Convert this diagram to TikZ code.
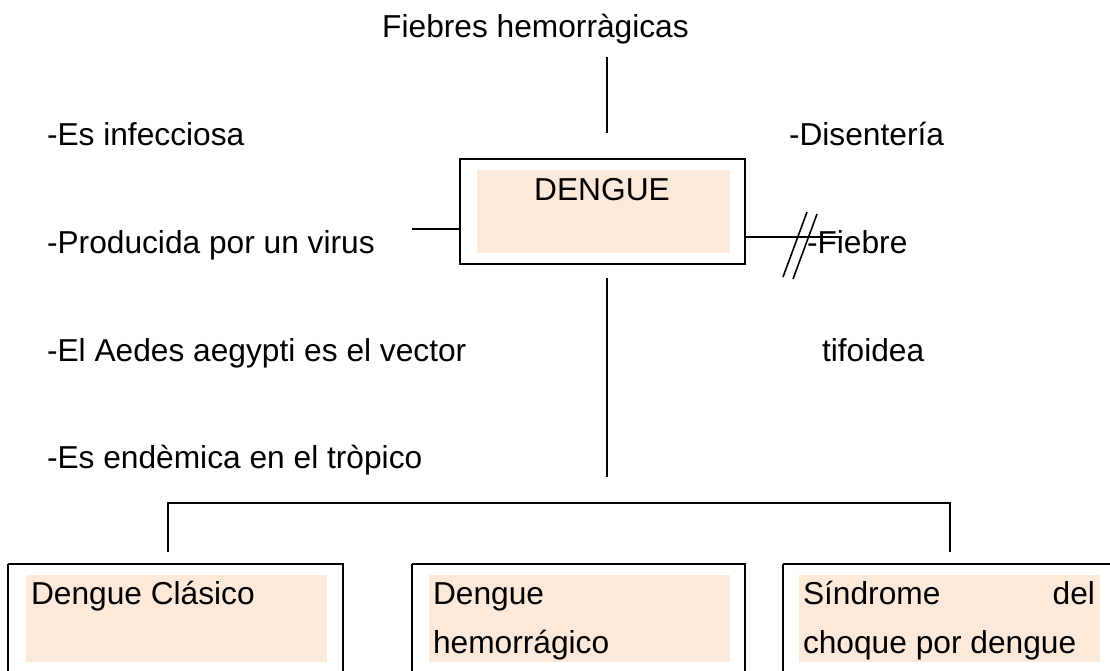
\documentclass[tikz,border=0pt]{standalone}
\usepackage{fontspec}
\setmainfont{Liberation Sans}
\definecolor{peach}{HTML}{FDE9D9}
\begin{document}
\begin{tikzpicture}[x=1pt,y=-1pt,
  txt/.style={inner sep=0pt, outer sep=0pt, font=\fontsize{31.7}{38}\selectfont, text=black},
  conn/.style={draw=black, line width=1.6pt},
  boxline/.style={draw=black, line width=2.2pt},
  fillbox/.style={fill=peach}]
\useasboundingbox (0,0) rectangle (1110,670);
\clip (0,0) rectangle (1110,670);
\fill[white] (0,0) rectangle (1110,670);

% top label
\node[txt, anchor=base] (fh) at (535.5,37) {Fiebres hemorràgicas};
\coordinate (t1) at (607,57);
\coordinate (t2) at (607,133);
\draw[conn] (t1) -- (t2);

% central box
\node[boxline, minimum width=285pt, minimum height=105pt, inner sep=0pt] (dengue) at (602.5,211.5) {};
\fill[fillbox] (477,170) rectangle (730,253);
\node[txt, anchor=base] (dtext) at (602,200) {DENGUE};

% left column
\node[txt, anchor=base west] (l1) at (47,145) {-Es infecciosa};
\node[txt, anchor=base west] (l2) at (47,253) {-Producida por un virus};
\node[txt, anchor=base west] (l3) at (47,361) {-El Aedes aegypti es el vector};
\node[txt, anchor=base west] (l4) at (47,468) {-Es endèmica en el tròpico};

% right column
\node[txt, anchor=base west] (r1) at (789,145) {-Disentería};
\node[txt, anchor=base west] (r2) at (807,253) {-Fiebre};
\node[txt, anchor=base west] (r3) at (822,361) {tifoidea};

% connectors around the box
\coordinate (lend) at (412,229);
\draw[conn] (lend) -- (lend -| dengue.west);
\coordinate (rend) at (842,237);
\draw[conn] (rend -| dengue.east) -- (rend);
\coordinate (s1a) at (783,277); \coordinate (s1b) at (807,212);
\coordinate (s2a) at (793,279); \coordinate (s2b) at (817,214);
\draw[conn] (s1a) -- (s1b);
\draw[conn] (s2a) -- (s2b);

\coordinate (v1) at (607,278);
\coordinate (v2) at (607,477);
\draw[conn] (v1) -- (v2);

% branch
\coordinate (bl) at (168,552);
\coordinate (br) at (950,552);
\draw[conn] (bl) -- (168,503) -- (950,503) -- (br);

% bottom boxes
\draw[boxline] (8,564) -- (8,690) (8,564) -- (343,564) -- (343,690);
\node[inner sep=0pt, minimum width=335pt, minimum height=1pt] (b1) at (175.5,564) {};
\draw[boxline] (412,564) -- (412,690) (412,564) -- (745,564) -- (745,690);
\node[inner sep=0pt, minimum width=333pt, minimum height=1pt] (b2) at (578.5,564) {};
\draw[boxline] (783,564) -- (783,690) (783,564) -- (1130,564);
\node[inner sep=0pt, minimum width=330pt, minimum height=1pt] (b3) at (948,564) {};

\fill[fillbox] (26,575) rectangle (327,662);
\fill[fillbox] (429,575) rectangle (730,662);
\fill[fillbox] (799,575) rectangle (1100,662);

\begin{scope}
\clip (0,575) rectangle (1110,662);
\node[txt, anchor=base west] (c1) at (31,604) {Dengue Clásico};
\node[txt, anchor=base west] (c2a) at (433,604) {Dengue};
\node[txt, anchor=base west] (c2b) at (433,653) {hemorrágico};
\node[txt, anchor=base west] (c3a) at (803,604) {Síndrome};
\node[txt, anchor=base east] (c3b) at (1095,604) {del};
\node[txt, anchor=base west] (c3c) at (803,653) {choque por dengue};
\end{scope}
\end{tikzpicture}
\end{document}
